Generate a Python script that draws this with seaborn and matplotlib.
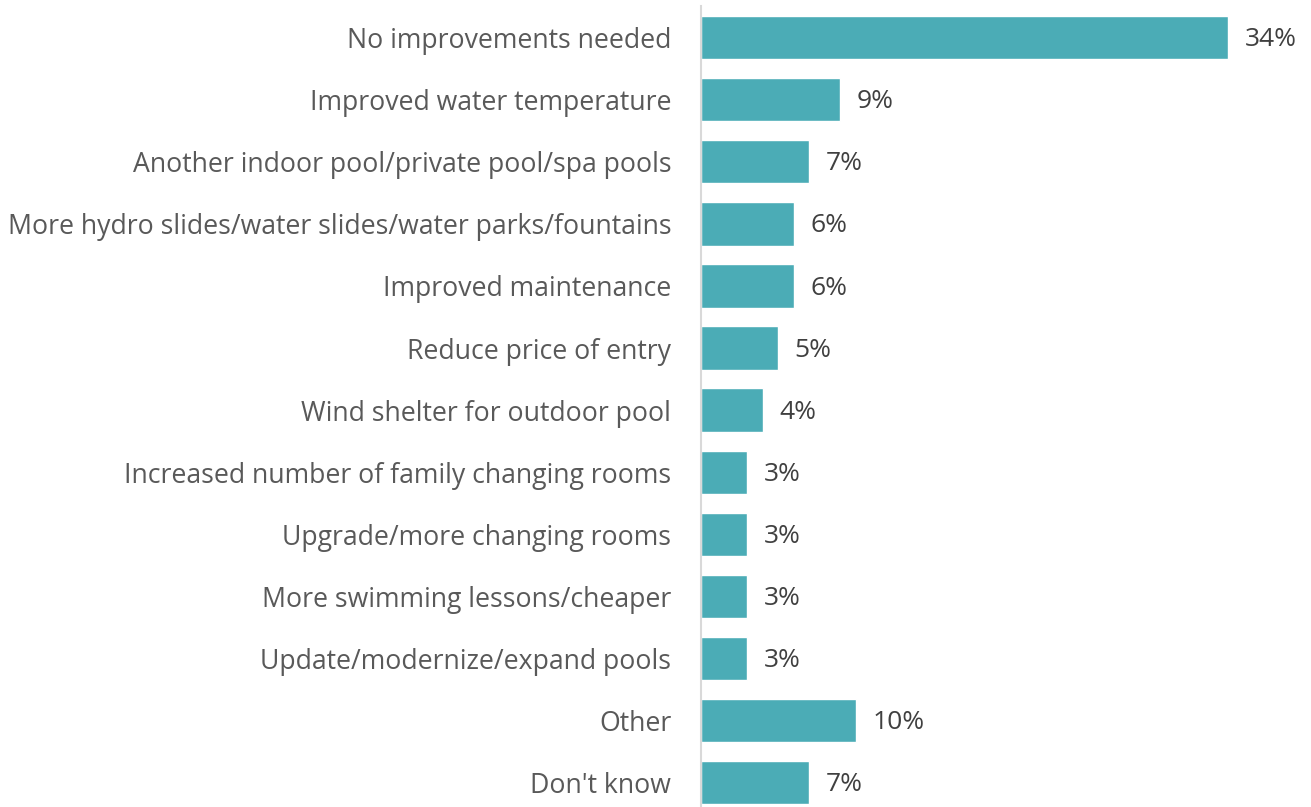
import matplotlib
matplotlib.use("Agg")
import matplotlib.pyplot as plt
import seaborn as sns
import pandas as pd

categories = [
    "No improvements needed",
    "Improved water temperature",
    "Another indoor pool/private pool/spa pools",
    "More hydro slides/water slides/water parks/fountains",
    "Improved maintenance",
    "Reduce price of entry",
    "Wind shelter for outdoor pool",
    "Increased number of family changing rooms",
    "Upgrade/more changing rooms",
    "More swimming lessons/cheaper",
    "Update/modernize/expand pools",
    "Other",
    "Don't know",
]
values = [34, 9, 7, 6, 6, 5, 4, 3, 3, 3, 3, 10, 7]

df = pd.DataFrame({"category": categories, "value": values})

sns.set_theme(style="white")
plt.rcParams["font.family"] = ["Open Sans", "DejaVu Sans"]

W, H = 1311, 807
fig = plt.figure(figsize=(W / 100, H / 100), dpi=100)
left_px, right_px = 700.5, 1305
top_px = 6.5
pitch = 62.1
bottom_px = top_px + 13 * pitch
ax = fig.add_axes([left_px / W, (H - bottom_px) / H,
                   (right_px - left_px) / W, (bottom_px - top_px) / H])

sns.barplot(data=df, x="value", y="category", orient="h", color="#4BACB6",
            saturation=1, width=0.7, ax=ax)

ax.set_xlim(0, (right_px - left_px) / 15.51)
ax.set_ylim(12.5, -0.5)
ax.set_xlabel("")
ax.set_ylabel("")
ax.set_xticks([])
for s in ["top", "right", "bottom"]:
    ax.spines[s].set_visible(False)
ax.spines["left"].set_color("#D9D9D9")
ax.spines["left"].set_linewidth(1.5)
ax.tick_params(axis="y", length=0, pad=21, labelsize=19.2, labelcolor="#595959")
for lbl in ax.get_yticklabels():
    lbl.set_verticalalignment("center_baseline")

for i, v in enumerate(values):
    ax.annotate(f"{v}%", xy=(v, i), xytext=(12, -1.5), textcoords="offset points",
                va="center", ha="left", fontsize=19, color="#404040")

fig.savefig("out.png", dpi=100)
